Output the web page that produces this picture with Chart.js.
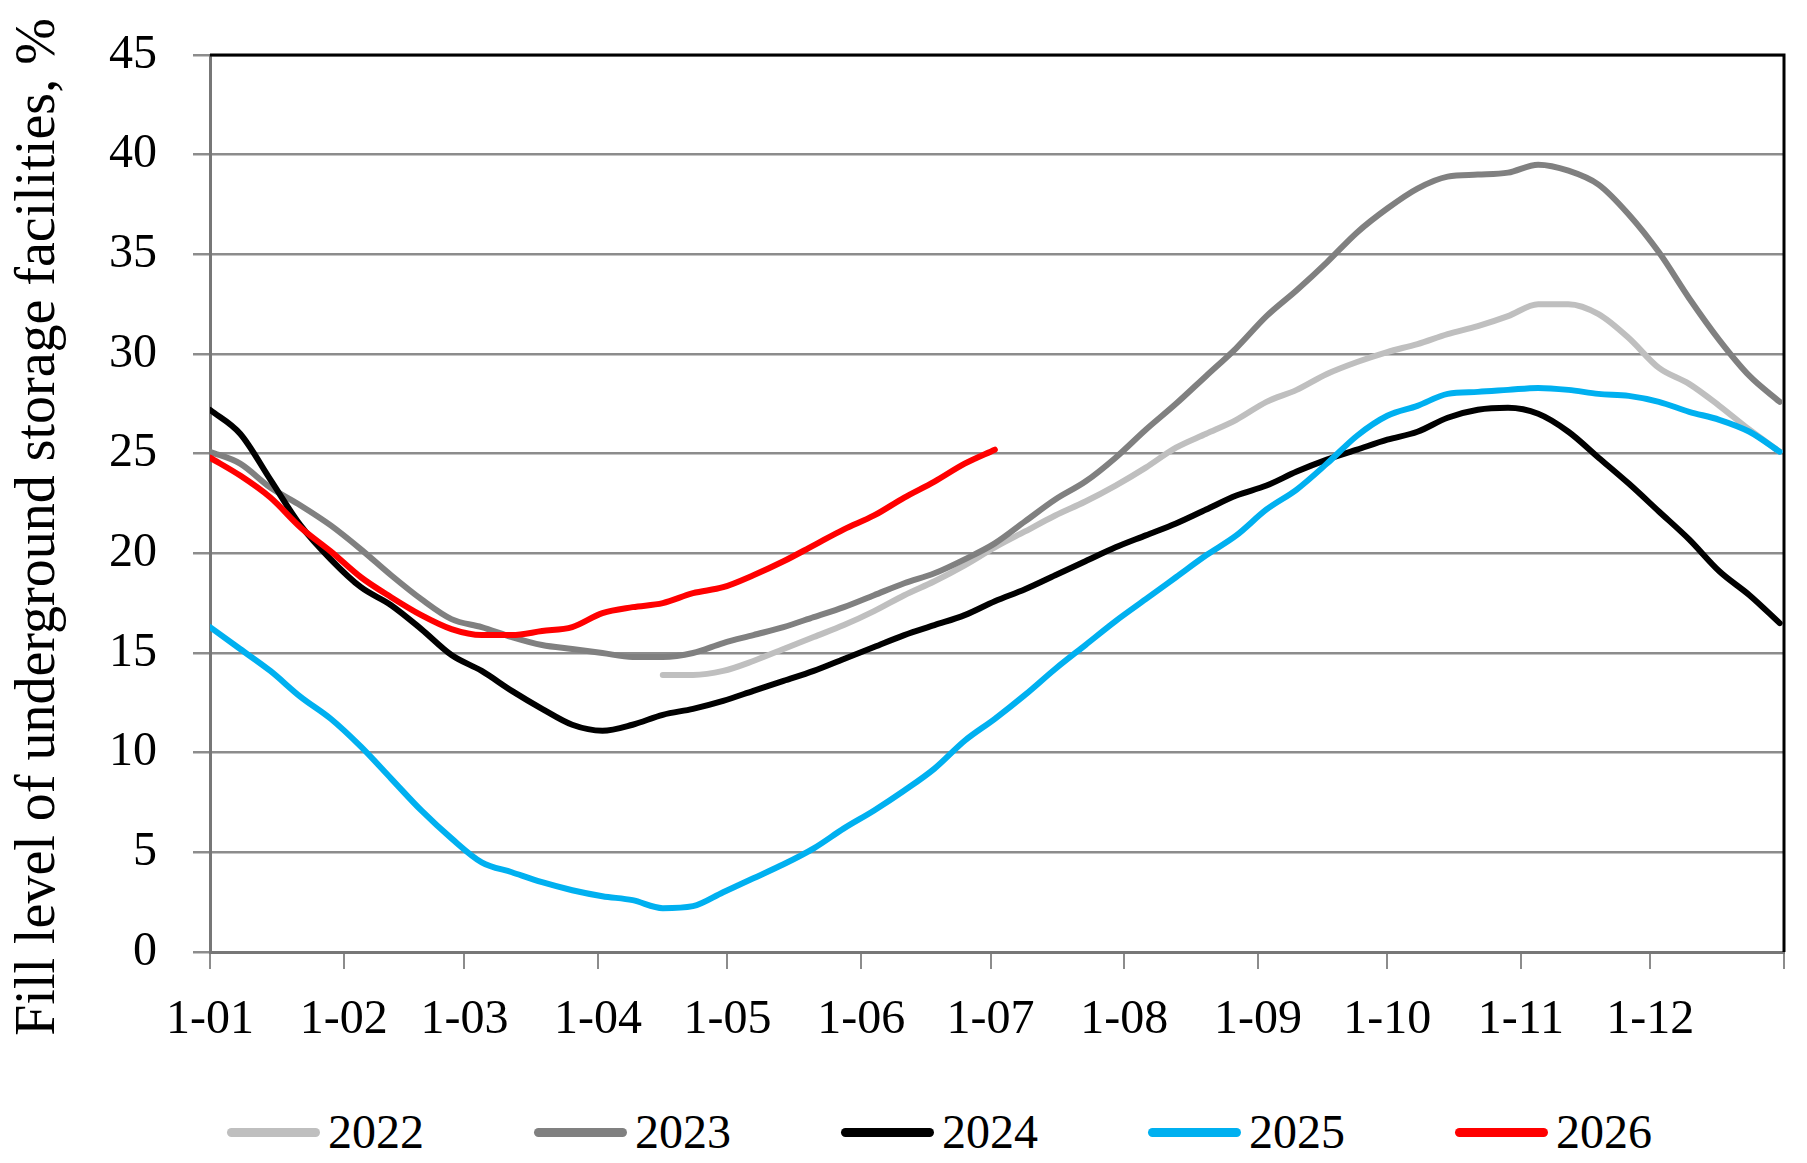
<!DOCTYPE html>
<html>
<head>
<meta charset="utf-8">
<script src="https://cdn.jsdelivr.net/npm/chart.js@4.4.0/dist/chart.umd.min.js"></script>
<style>
    html, body { margin: 0; padding: 0; background: #fff; }
    body { position: relative; width: 1807px; height: 1163px; }
    #wrap { width: 1807px; height: 1080px; }
    #legend {
        position: absolute; left: 227px; top: 1108px;
        display: flex;
        font-family: "Liberation Serif", "Times New Roman", serif;
        font-size: 48px; line-height: 48px; color: #000;
    }
    .legend-item { display: flex; align-items: center; width: 307px; height: 48px; }
    .legend-item .swatch { display: inline-block; width: 93px; height: 9px; border-radius: 5px; margin-right: 8px; }
</style>
</head>
<body>
<div id="wrap"><canvas id="storageChart"></canvas></div>
<div id="legend"></div>
<script>
// day of year of each reading (one per week)
const days = [0, 7, 14, 21, 28, 35, 42, 49, 56, 63, 70, 77, 84, 91, 98, 105, 112, 119, 126, 133,
    140, 147, 154, 161, 168, 175, 182, 189, 196, 203, 210, 217, 224, 231, 238, 245, 252, 259, 266, 273,
    280, 287, 294, 301, 308, 315, 322, 329, 336, 343, 350, 357, 364];

const monthStarts = [0, 31, 59, 90, 120, 151, 181, 212, 243, 273, 304, 334, 365];
const monthLabels = ['1-01', '1-02', '1-03', '1-04', '1-05', '1-06', '1-07', '1-08', '1-09', '1-10', '1-11', '1-12'];

const years = ['2022', '2023', '2024', '2025', '2026'];

const values2022 = [null, null, null, null, null, null, null, null, null, null, null, null, null, null, null,
    13.9, 13.9, 14.1, 14.6, 15.2, 15.8, 16.4, 17.1, 17.9, 18.6, 19.4, 20.3, 21.1, 21.9, 22.6, 23.4, 24.3,
    25.3, 26.0, 26.7, 27.6, 28.2, 29.0, 29.6, 30.1, 30.5, 31.0, 31.4, 31.9, 32.5, 32.5, 32.0, 30.8, 29.3,
    28.5, 27.4, 26.2, 25.1];
const values2023 = [25.1, 24.5, 23.3, 22.4, 21.4, 20.2, 18.9, 17.7, 16.7, 16.3, 15.8, 15.4, 15.2, 15.0,
    14.8, 14.8, 15.0, 15.5, 15.9, 16.3, 16.8, 17.3, 17.9, 18.5, 19.0, 19.7, 20.5, 21.6, 22.7, 23.6, 24.8,
    26.2, 27.5, 28.9, 30.3, 31.9, 33.2, 34.6, 36.1, 37.3, 38.3, 38.9, 39.0, 39.1, 39.5, 39.2, 38.5, 37.0,
    35.1, 32.8, 30.7, 28.9, 27.6];
const values2024 = [27.2, 26.0, 23.7, 21.4, 19.7, 18.3, 17.4, 16.2, 14.9, 14.1, 13.1, 12.2, 11.4, 11.1,
    11.4, 11.9, 12.2, 12.6, 13.1, 13.6, 14.1, 14.7, 15.3, 15.9, 16.4, 16.9, 17.6, 18.2, 18.9, 19.6, 20.3,
    20.9, 21.5, 22.2, 22.9, 23.4, 24.1, 24.7, 25.2, 25.7, 26.1, 26.8, 27.2, 27.3, 27.0, 26.1, 24.8, 23.5,
    22.1, 20.7, 19.1, 17.9, 16.5];
const values2025 = [16.3, 15.2, 14.1, 12.8, 11.7, 10.3, 8.7, 7.1, 5.7, 4.5, 4.0, 3.5, 3.1, 2.8,
    2.6, 2.2, 2.3, 3.0, 3.7, 4.4, 5.2, 6.2, 7.1, 8.1, 9.2, 10.6, 11.7, 12.9, 14.2, 15.4, 16.6,
    17.7, 18.8, 19.9, 20.9, 22.2, 23.2, 24.5, 25.9, 26.9, 27.4, 28.0, 28.1, 28.2, 28.3, 28.2, 28.0, 27.9,
    27.6, 27.1, 26.7, 26.1, 25.1];
const values2026 = [24.8, 23.9, 22.8, 21.3, 20.1, 18.8, 17.8, 16.9, 16.2, 15.9, 15.9, 16.1, 16.3, 17.0,
    17.3, 17.5, 18.0, 18.3, 18.9, 19.6, 20.4, 21.2, 21.9, 22.8, 23.6, 24.5, 25.2,
    null, null, null, null, null, null, null, null, null, null, null, null, null, null, null, null, null,
    null, null, null, null, null, null, null, null, null];

const yTitleText = 'Fill level of underground storage facilities, %';
const serif = '"Liberation Serif", "Times New Roman", serif';

function toPoints(vals) {
    return days.map((d, i) => ({ x: d, y: vals[i] }));
}

function makeSet(label, vals, color, order) {
    return {
        label: label,
        data: toPoints(vals),
        borderColor: color,
        backgroundColor: color,
        borderWidth: 6,
        pointRadius: 0,
        cubicInterpolationMode: 'monotone',
        borderCapStyle: 'round',
        borderJoinStyle: 'round',
        spanGaps: false,
        order: order
    };
}

// top and right edges of the plot are black
const frame = {
    id: 'frame',
    beforeDatasetsDraw(chart) {
        const ctx = chart.ctx;
        const a = chart.chartArea;
        ctx.save();
        ctx.strokeStyle = '#000';
        ctx.lineWidth = 3;
        ctx.beginPath();
        ctx.moveTo(a.left, a.top);
        ctx.lineTo(a.right, a.top);
        ctx.lineTo(a.right, a.bottom);
        ctx.stroke();
        ctx.restore();
    }
};

// rotated axis title, drawn by hand because it is taller than the plot
const yTitle = {
    id: 'yTitle',
    afterDraw(chart) {
        const ctx = chart.ctx;
        ctx.save();
        ctx.translate(54, 527);
        ctx.rotate(-Math.PI / 2);
        ctx.font = '56px ' + serif;
        ctx.fillStyle = '#000';
        ctx.textAlign = 'center';
        ctx.textBaseline = 'alphabetic';
        ctx.fillText(yTitleText, 0, 0);
        ctx.restore();
    }
};

const ctx = document.getElementById('storageChart').getContext('2d');
const storageChart = new Chart(ctx, {
    type: 'line',
    data: {
        datasets: [
            makeSet(years[0], values2022, '#BFBFBF', 5),
            makeSet(years[1], values2023, '#808080', 4),
            makeSet(years[2], values2024, '#000000', 3),
            makeSet(years[3], values2025, '#00B0F0', 2),
            makeSet(years[4], values2026, '#FF0000', 1)
        ]
    },
    options: {
        responsive: true,
        maintainAspectRatio: false,
        animation: false,
        devicePixelRatio: 1,
        layout: { padding: { left: 93, right: 18, top: 55, bottom: 0 } },
        scales: {
            x: {
                type: 'linear',
                min: 0,
                max: 365,
                afterBuildTicks: function(scale) {
                    scale.ticks = monthStarts.map(v => ({ value: v }));
                },
                afterFit: function(scale) { scale.height = 128; },
                ticks: {
                    autoSkip: false,
                    maxRotation: 0,
                    padding: 23,
                    color: '#000',
                    font: { family: serif, size: 48 },
                    callback: function(value, index) {
                        return monthLabels[index] || '';
                    }
                },
                grid: { drawOnChartArea: false, drawTicks: true, tickLength: 17, color: '#8c8c8c', lineWidth: 2 },
                border: { color: '#777', width: 3 }
            },
            y: {
                min: 0,
                max: 45,
                afterFit: function(scale) {
                    // label padding should not push the plot top down
                    scale.width = 117;
                    scale.paddingTop = 0;
                    scale.paddingBottom = 0;
                },
                ticks: {
                    stepSize: 5,
                    padding: 36,
                    color: '#000',
                    font: { family: serif, size: 48 }
                },
                grid: { color: '#8c8c8c', lineWidth: 2.5, tickLength: 17 },
                border: { color: '#777', width: 3 }
            }
        },
        plugins: {
            tooltip: { enabled: false },
            legend: { display: false }
        }
    },
    plugins: [frame, yTitle]
});

// html legend under the canvas
const legendBox = document.getElementById('legend');
storageChart.data.datasets.forEach(function(ds) {
    const item = document.createElement('div');
    item.className = 'legend-item';
    item.innerHTML = `<span class="swatch" style="background:${ds.borderColor}"></span><span>${ds.label}</span>`;
    legendBox.appendChild(item);
});
</script>
</body>
</html>
